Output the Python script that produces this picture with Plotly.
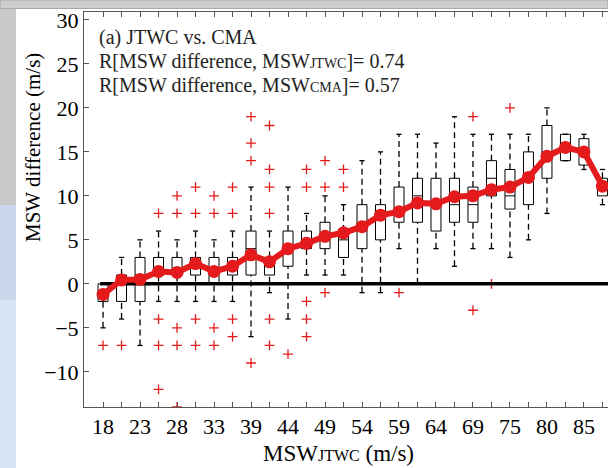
import plotly.graph_objects as go

# MSW_JTWC bins (m/s), labels shown on every other box
tick_labels = ['18', '23', '28', '33', '39', '44', '49', '54', '59', '64', '69', '75', '80', '85']

# box statistics per bin (m/s)
q1 = [-2, -2, -2, 1, 1, 1, 0, 1, 1, 1, 2, 4, 4, 3, 4, 5, 7, 7, 6, 7, 7, 10, 8.5, 9, 12, 14, 13.5, 10]
median = [-1, 0, 1, 1, 1, 2, 1, 2, 4, 2, 4, 5, 5, 5, 6, 8, 8, 10, 9, 9, 9, 12, 10, 12, 15, 16, 15, 11]
q3 = [0, 1, 3, 3, 3, 3, 3, 3, 6, 3, 6, 6, 7, 6, 9, 9, 11, 12, 12, 12, 11, 14, 13, 15, 18, 17, 16.5, 12]
lower = [-5, -4, -7, -2, -2, -2, -2, -2, -6, -1, -4, 1, 1, 1, -1, -1, 4, 0, 4, 2, 4, 4, 3, 5, 8, 14, 13, 9]
upper = [0, 3, 5, 6, 5, 6, 5, 6, 11, 6, 11, 8, 10, 9, 14, 15, 17, 17, 16, 19, 17, 17, 17, 17, 20, 17, 17, 13]
outliers = [[-7], [-7], [], [8, -4, -7, -12], [10, 8, -5, -7, -14], [11, 8, -4, -7],
            [10, 8, -5, -7], [11, 8, -4, -6], [19, 16, 14, -9], [18, 13, 11, 8, -4, -7],
            [-8], [13, 11, -2, -4, -6], [14, 11, -1], [13, 11], [], [], [-1], [], [], [],
            [19, -3], [0], [20], [], [], [], [], []]
mean = [-1.2, 0.45, 0.5, 1.4, 1.3, 2.3, 1.4, 2.0, 3.3, 2.5, 4.0, 4.6, 5.4, 5.8, 6.5, 7.8,
        8.2, 9.2, 9.1, 9.9, 10.0, 10.7, 11.0, 12.1, 14.5, 15.5, 15.0, 11.1]

n = len(q1)
xs = list(range(n))
hw = 0.27   # box half width
cw = 0.14   # cap half width

box_x, box_y, med_x, med_y = [], [], [], []
wh_x, wh_y, cap_x, cap_y = [], [], [], []
for i in xs:
    box_x += [i - hw, i + hw, i + hw, i - hw, i - hw, None]
    box_y += [q1[i], q1[i], q3[i], q3[i], q1[i], None]
    med_x += [i - hw, i + hw, None]
    med_y += [median[i], median[i], None]
    wh_x += [i, i, None, i, i, None]
    wh_y += [q3[i], upper[i], None, lower[i], q1[i], None]
    cap_x += [i - cw, i + cw, None, i - cw, i + cw, None]
    cap_y += [upper[i], upper[i], None, lower[i], lower[i], None]

out_x = [i for i in xs for v in outliers[i]]
out_y = [v for i in xs for v in outliers[i]]

red = '#e41a1c'
font = '"Liberation Serif", "Times New Roman", serif'

fig = go.Figure()
fig.add_trace(go.Scatter(x=wh_x, y=wh_y, mode='lines', line=dict(color='black', width=1.3, dash='6px,4px'), hoverinfo='skip'))
fig.add_trace(go.Scatter(x=cap_x, y=cap_y, mode='lines', line=dict(color='black', width=1.3), hoverinfo='skip'))
fig.add_trace(go.Scatter(x=box_x, y=box_y, mode='lines', line=dict(color='black', width=1), hoverinfo='skip'))
fig.add_trace(go.Scatter(x=med_x, y=med_y, mode='lines', line=dict(color='black', width=1), hoverinfo='skip'))
fig.add_trace(go.Scatter(x=out_x, y=out_y, mode='markers',
                         marker=dict(symbol='cross-thin', size=7, line=dict(color=red, width=1.3))))
fig.add_trace(go.Scatter(x=[-0.15, n + 1], y=[0, 0], mode='lines', line=dict(color='black', width=3.5), hoverinfo='skip'))
fig.add_trace(go.Scatter(x=xs, y=mean, mode='lines+markers', line=dict(color=red, width=6),
                         marker=dict(color=red, size=13)))

W, H = 608, 468
L, R, T, B = 84, 0, 12, 61
pw, ph = W - L - R, H - T - B
px = lambda p: (p - L) / pw
py = lambda p: (H - B - p) / ph

shapes = [
    dict(type='rect', xref='paper', yref='paper', x0=px(0), x1=px(W), y0=py(0), y1=py(8.5),
         fillcolor='#cdcdcd', line=dict(color='#a8a8a8', width=1), layer='above'),
    dict(type='rect', xref='paper', yref='paper', x0=px(0), x1=px(16), y0=py(9), y1=py(205),
         fillcolor='#c9c9c9', line_width=0, layer='above'),
    dict(type='rect', xref='paper', yref='paper', x0=px(0), x1=px(16), y0=py(205), y1=py(300),
         fillcolor='#c8d8ea', line_width=0, layer='above'),
    dict(type='rect', xref='paper', yref='paper', x0=px(0), x1=px(16), y0=py(300), y1=py(H),
         fillcolor='#d6e5f4', line_width=0, layer='above'),
]

txt = dict(family=font, size=20, color='#222')
annotations = [
    dict(text='(a) JTWC vs. CMA', x=px(97), y=py(37)),
    dict(text="R[MSW difference, MSW<span style='font-size:14px'>JTWC</span>]= 0.74", x=px(97), y=py(61)),
    dict(text="R[MSW difference, MSW<span style='font-size:14px'>CMA</span>]= 0.57", x=px(97), y=py(85)),
]
annotations = [dict(a, xref='paper', yref='paper', xanchor='left', yanchor='middle', showarrow=False, font=txt)
               for a in annotations]
annotations.append(dict(text="MSW<span style='font-size:16px'>JTWC</span> (m/s)", x=px(338), y=py(453),
                        xref='paper', yref='paper', showarrow=False, xanchor='center', yanchor='middle',
                        font=dict(family=font, size=23, color='black')))
annotations.append(dict(text='MSW difference (m/s)', x=px(33), y=py(148), textangle=-90,
                        xref='paper', yref='paper', showarrow=False, xanchor='center', yanchor='middle',
                        font=dict(family=font, size=21, color='black')))

fig.update_layout(
    width=W, height=H, margin=dict(l=L, r=R, t=T, b=B),
    paper_bgcolor='white', plot_bgcolor='white', showlegend=False,
    shapes=shapes, annotations=annotations,
    font=dict(family=font, size=22, color='black'),
)
fig.update_xaxes(range=[-1.03, 27.3], tickvals=xs,
                 ticktext=[tick_labels[i // 2] if i % 2 == 0 else '' for i in xs],
                 ticks='inside', ticklen=5, tickcolor='#555', showline=True, linecolor='#555',
                 linewidth=1, mirror='ticks', showgrid=False, zeroline=False)
fig.update_yaxes(range=[-14, 30.9], tickvals=[-10, -5, 0, 5, 10, 15, 20, 25, 30],
                 ticks='inside', ticklen=5, tickcolor='#555', showline=True, linecolor='#555',
                 linewidth=1, showgrid=False, zeroline=False)

fig.write_html('out.html', config={'displayModeBar': False},
               post_script="document.body.style.margin='0';")
